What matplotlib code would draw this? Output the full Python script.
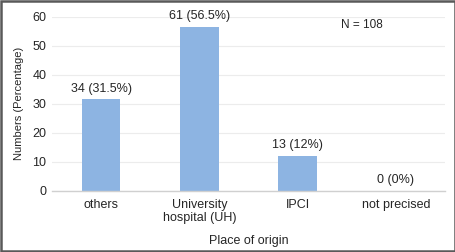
import matplotlib.pyplot as plt
from matplotlib.patches import Rectangle

plt.rcParams['font.family'] = ['Liberation Sans', 'DejaVu Sans']

categories = ['others', 'University\nhospital (UH)', 'IPCI', 'not precised']
counts = [34, 61, 13, 0]
percents = [31.5, 56.5, 12, 0]
n_total = 108

txt = '#262626'
fig = plt.figure(figsize=(4.56, 2.52), dpi=100)
ax = fig.add_axes([0.114, 0.2433, 0.862, 0.6912])

x = range(len(categories))
ax.bar(x, percents, width=0.39, color='#8db4e2', zorder=2)
for xi, c, p in zip(x, counts, percents):
    lab = f'{c} ({p:g}%)'
    ax.text(xi, p + 1.6, lab, ha='center', va='bottom', fontsize=9, color=txt)

ax.set_xlim(-0.5, 3.5)
ax.set_ylim(0, 60)
ax.set_yticks(range(0, 61, 10))
ax.set_xticks(list(x))
ax.set_xticklabels(categories, fontsize=9, color=txt, linespacing=1.1)
ax.tick_params(axis='y', labelsize=9, labelcolor=txt, length=0, pad=4)
ax.tick_params(axis='x', length=0, pad=6)
ax.grid(axis='y', color='#ececec', linewidth=0.8, zorder=0)
for s in ['top', 'right', 'left']:
    ax.spines[s].set_visible(False)
ax.spines['bottom'].set_color('#d0d0d0')
ax.spines['bottom'].set_linewidth(1.0)
ax.spines['bottom'].set_zorder(3)

ax.set_ylabel('Numbers (Percentage)', fontsize=8, color=txt)
ax.yaxis.set_label_coords(-0.072, 0.5)
ax.set_xlabel('Place of origin', fontsize=9, color=txt, labelpad=8)
ax.text(2.65, 57.1, f'N = {n_total}', ha='center', va='center', fontsize=8.5, color=txt)

fig.patches.append(Rectangle((0.002, 0.003), 0.996, 0.994, transform=fig.transFigure,
                             fill=False, edgecolor='#595959', linewidth=1.8))

fig.savefig('out.png', dpi=100)
